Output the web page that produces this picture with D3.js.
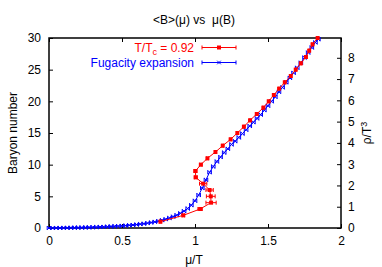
<!DOCTYPE html>
<html><head><meta charset="utf-8">
<script src="https://cdn.jsdelivr.net/npm/d3@7"></script>
<style>body{margin:0;background:#fff}svg{display:block}text{font-family:"Liberation Sans",Arial,sans-serif;white-space:pre}</style>
</head><body><div id="c"></div>
<script>
const title = "<B>(\u03bc) vs  \u03bc(B)";
const xTicks = [0, 0.5, 1, 1.5, 2];
const xTickLabels = ["0", "0.5", "1", "1.5", "2"];
const yTicks = [0, 5, 10, 15, 20, 25, 30];
const y2Ticks = [0, 1, 2, 3, 4, 5, 6, 7, 8];
// T/Tc = 0.92 : mu/T at integer baryon number
const redB = [1,2,3,4,5,6,7,8,9,10,11,12,13,14,15,16,17,18,19,20,21,22,23,24,25,26,27,28,29,30];
const redMu = [0.763,0.92,1.035,1.11,1.108,1.10,1.056,1.005,1.003,1.04,1.085,1.14,1.19,1.244,1.29,1.335,1.377,1.423,1.468,1.505,1.54,1.576,1.615,1.656,1.69,1.725,1.76,1.782,1.805,1.84];
const redErr = [0.005,0.008,0.015,0.035,0.03,0.025,0.025,0.01,0.01,0.008,0.006,0.005,0.005,0.005,0.005,0.005,0.005,0.005,0.005,0.005,0.005,0.005,0.005,0.005,0.005,0.005,0.005,0.005,0.005,0.005];
// Fugacity expansion
const blueMu = [0,0.025,0.05,0.075,0.1,0.125,0.15,0.175,0.2,0.225,0.25,0.275,0.3,0.325,0.35,0.375,0.4,0.425,0.45,0.475,0.5,0.525,0.55,0.575,0.6,0.625,0.65,0.675,0.7,0.725,0.75,0.775,0.8,0.825,0.85,0.875,0.9,0.925,0.95,0.975,1.0,1.025,1.05,1.075,1.1,1.125,1.15,1.175,1.2,1.225,1.25,1.275,1.3,1.325,1.35,1.375,1.4,1.425,1.45,1.475,1.5,1.525,1.55,1.575,1.6,1.625,1.65,1.675,1.7,1.725,1.75,1.775,1.8,1.825,1.845];
const blueB = [0,0,0.01,0.01,0.02,0.03,0.04,0.05,0.06,0.07,0.09,0.10,0.12,0.14,0.16,0.18,0.21,0.24,0.27,0.30,0.34,0.38,0.43,0.48,0.54,0.61,0.68,0.77,0.86,0.97,1.09,1.23,1.39,1.58,1.79,2.03,2.32,2.66,3.08,3.6,4.3,5.2,6.3,7.6,8.8,9.7,10.5,11.2,11.9,12.5,13.2,13.7,14.3,14.9,15.5,16.1,16.7,17.3,17.9,18.6,19.3,20.0,20.7,21.5,22.2,23.0,23.7,24.5,25.3,26.1,26.9,27.7,28.5,29.3,29.8];
const legendLabels = ["T/T", "Fugacity expansion"];
const red = "#ff0000", blue = "#0000ff";

const W = 382, H = 267;
const m = {l: 49, r: 341, t: 38, b: 228};
const svg = d3.select("#c").append("svg").attr("width", W).attr("height", H);
const x = d3.scaleLinear().domain([0, 2]).range([m.l, m.r]);
const y = d3.scaleLinear().domain([0, 30]).range([m.b, m.t]);
const y2 = d3.scaleLinear().domain([0, 8.93]).range([m.b, m.t]);
const fs = 12;

// axes
const gx = svg.append("g").attr("transform", `translate(0,${m.b})`)
  .call(d3.axisBottom(x).tickValues(xTicks).tickFormat((d,i)=>xTickLabels[i]).tickSizeInner(-4).tickSizeOuter(0).tickPadding(8));
const gxt = svg.append("g").attr("transform", `translate(0,${m.t})`)
  .call(d3.axisTop(x).tickValues(xTicks).tickFormat("").tickSizeInner(-4).tickSizeOuter(0));
const gy = svg.append("g").attr("transform", `translate(${m.l},0)`)
  .call(d3.axisLeft(y).tickValues(yTicks).tickSizeInner(-4).tickSizeOuter(0).tickPadding(8));
const gy2 = svg.append("g").attr("transform", `translate(${m.r},0)`)
  .call(d3.axisRight(y2).tickValues(y2Ticks).tickSizeInner(-4).tickSizeOuter(0).tickPadding(7));
[gx, gxt, gy, gy2].forEach(g => {
  g.select(".domain").remove();
  g.selectAll("line").attr("stroke", "#000").attr("stroke-width", 1);
  g.selectAll("text").attr("font-size", fs).attr("fill", "#000").style("font-family", '"Liberation Sans",Arial,sans-serif');
});
svg.append("rect").attr("x", m.l).attr("y", m.t).attr("width", m.r - m.l).attr("height", m.b - m.t)
  .attr("fill", "none").attr("stroke", "#000").attr("stroke-width", 1.5);

// labels
svg.append("text").attr("x", 194).attr("y", 24).attr("text-anchor", "middle").attr("font-size", fs).text(title);
svg.append("text").attr("x", 194).attr("y", 264).attr("text-anchor", "middle").attr("font-size", fs).text("\u03bc/T");
svg.append("text").attr("transform", "translate(17,133) rotate(-90)").attr("text-anchor", "middle").attr("font-size", fs).text("Baryon number");
const rl = svg.append("text").attr("transform", "translate(371,133) rotate(-90)").attr("text-anchor", "middle").attr("font-size", fs);
rl.append("tspan").text("\u03c1/T");
rl.append("tspan").attr("dy", -4).attr("font-size", 9).text("3");

const plot = svg.append("g");
// blue
const bdata = blueMu.map((v, i) => [v, blueB[i]]);
plot.append("path").datum(bdata).attr("fill", "none").attr("stroke", blue).attr("stroke-width", 1)
  .attr("d", d3.line().x(d => x(d[0])).y(d => y(d[1])));
plot.selectAll(".bm").data(bdata).enter().append("path").attr("class", "bm")
  .attr("d", d => { const px = x(d[0]), py = y(d[1]), s = 1.8;
    return `M${px-s},${py-s}L${px+s},${py+s}M${px-s},${py+s}L${px+s},${py-s}M${px-s},${py-2}V${py+2}M${px+s},${py-2}V${py+2}`; })
  .attr("stroke", blue).attr("stroke-width", 1);

// red
const rdata = redMu.map((v, i) => [v, redB[i], redErr[i]]);
plot.append("path").datum(rdata).attr("fill", "none").attr("stroke", red).attr("stroke-width", 1)
  .attr("d", d3.line().x(d => x(d[0])).y(d => y(d[1])));
plot.selectAll(".re").data(rdata).enter().append("path").attr("class", "re")
  .attr("d", d => { const a = x(d[0] - d[2]), b = x(d[0] + d[2]), py = y(d[1]);
    return `M${a},${py}H${b}M${a},${py-2}V${py+2}M${b},${py-2}V${py+2}`; })
  .attr("stroke", red).attr("stroke-width", 1).attr("fill", "none");
plot.selectAll(".rm").data(rdata).enter().append("rect").attr("class", "rm")
  .attr("x", d => x(d[0]) - 2).attr("y", d => y(d[1]) - 2).attr("width", 4).attr("height", 4).attr("fill", red);

// legend
const lg = svg.append("g");
const t1 = lg.append("text").attr("x", 194).attr("y", 51.5).attr("text-anchor", "end").attr("font-size", fs).attr("fill", red);
t1.append("tspan").text("T/T");
t1.append("tspan").attr("dy", 3).attr("font-size", 9).text("c");
t1.append("tspan").attr("dy", -3).text(" = 0.92");
lg.append("text").attr("x", 194).attr("y", 66.5).attr("text-anchor", "end").attr("font-size", fs).attr("fill", blue).text(legendLabels[1]);
[[47.5, red], [62.5, blue]].forEach(([yy, c], i) => {
  lg.append("path").attr("d", `M202,${yy}H236M202,${yy-2}V${yy+2}M236,${yy-2}V${yy+2}`).attr("stroke", c).attr("stroke-width", 1).attr("fill", "none");
  if (i === 0) lg.append("rect").attr("x", 217).attr("y", yy - 2).attr("width", 4).attr("height", 4).attr("fill", c);
  else lg.append("path").attr("d", `M217.2,${yy-1.8}L220.8,${yy+1.8}M217.2,${yy+1.8}L220.8,${yy-1.8}`).attr("stroke", c).attr("stroke-width", 1);
});
</script></body></html>
